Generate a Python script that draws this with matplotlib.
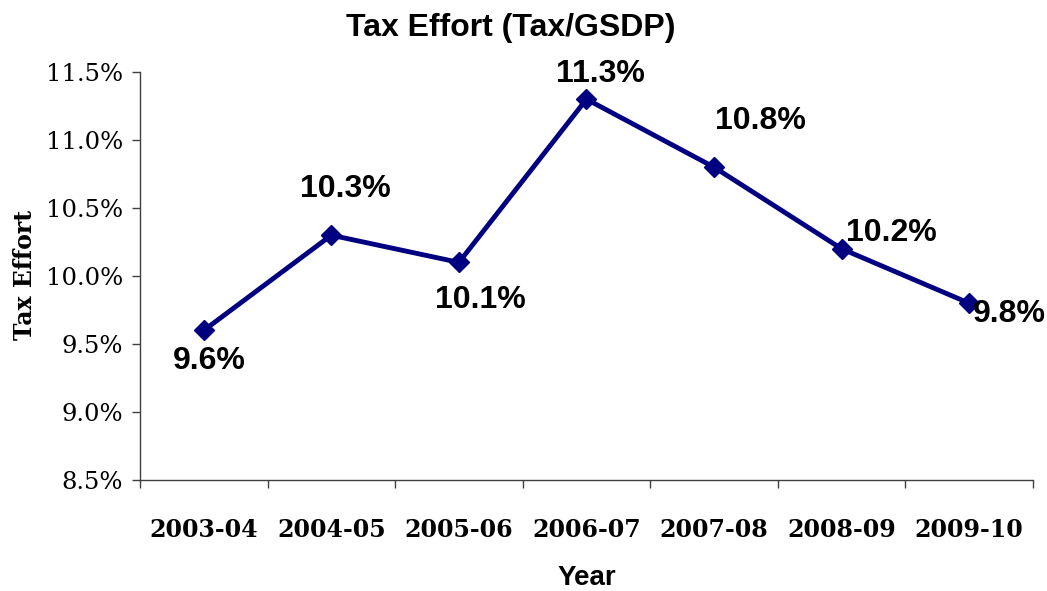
import matplotlib
matplotlib.use("Agg")
import matplotlib.pyplot as plt
from matplotlib.ticker import FuncFormatter

years = ["2003-04", "2004-05", "2005-06", "2006-07", "2007-08", "2008-09", "2009-10"]
tax_effort = [9.6, 10.3, 10.1, 11.3, 10.8, 10.2, 9.8]
point_labels = ["9.6%", "10.3%", "10.1%", "11.3%", "10.8%", "10.2%", "9.8%"]
label_offsets = [(6, -31), (14, 46), (21, -38), (14, 25), (46, 46), (50, 16), (40, -11)]

fig = plt.figure(figsize=(10.47, 5.91), dpi=100)
ax = fig.add_axes([0.1337, 0.1878, 0.8529, 0.6904])

x = list(range(len(years)))
ax.plot(x, tax_effort, color="#000080", lw=3.5, marker="D", ms=10, mec="#000080", mfc="#000080")

for xi, yi, lab, (dx, dy) in zip(x, tax_effort, point_labels, label_offsets):
    ax.annotate(lab, (xi, yi), xytext=(dx * 0.72, dy * 0.72), textcoords="offset points",
                ha="center", va="center", fontsize=23, fontweight="bold",
                family="Liberation Sans", color="black")

ax.set_xlim(-0.5, len(years) - 0.5)
ax.set_ylim(8.5, 11.5)
ax.set_yticks([8.5, 9.0, 9.5, 10.0, 10.5, 11.0, 11.5])
ax.yaxis.set_major_formatter(FuncFormatter(lambda v, p: f"{v:.1f}%"))
ax.set_xticks([i - 0.5 for i in range(len(years) + 1)])
ax.set_xticklabels([])
ax.set_xticks(x, minor=True)
ax.set_xticklabels(years, minor=True, fontsize=17, fontweight="bold", family="DejaVu Serif")
ax.tick_params(axis="x", which="minor", length=0, pad=27)
ax.tick_params(axis="x", which="major", direction="out", length=6, width=1, color="#404040")
ax.tick_params(axis="y", direction="out", length=6, width=1, color="#404040", pad=6)
for t in ax.get_yticklabels():
    t.set_family("DejaVu Serif")
    t.set_fontsize(17.5)

for s in ["top", "right"]:
    ax.spines[s].set_visible(False)
for s in ["left", "bottom"]:
    ax.spines[s].set_color("#404040")
    ax.spines[s].set_linewidth(1)

fig.text(0.488, 0.952, "Tax Effort (Tax/GSDP)", fontsize=23, fontweight="bold",
         family="Liberation Sans", ha="center", va="center")
ax.set_xlabel("Year", fontsize=20, fontweight="bold", family="Liberation Sans", va="center")
ax.xaxis.set_label_coords(0.5, -0.240)
ax.set_ylabel("Tax Effort", fontsize=17, fontweight="bold", family="DejaVu Serif", va="center")
ax.yaxis.set_label_coords(-0.1288, 0.502)

fig.savefig("out.png", dpi=100)
